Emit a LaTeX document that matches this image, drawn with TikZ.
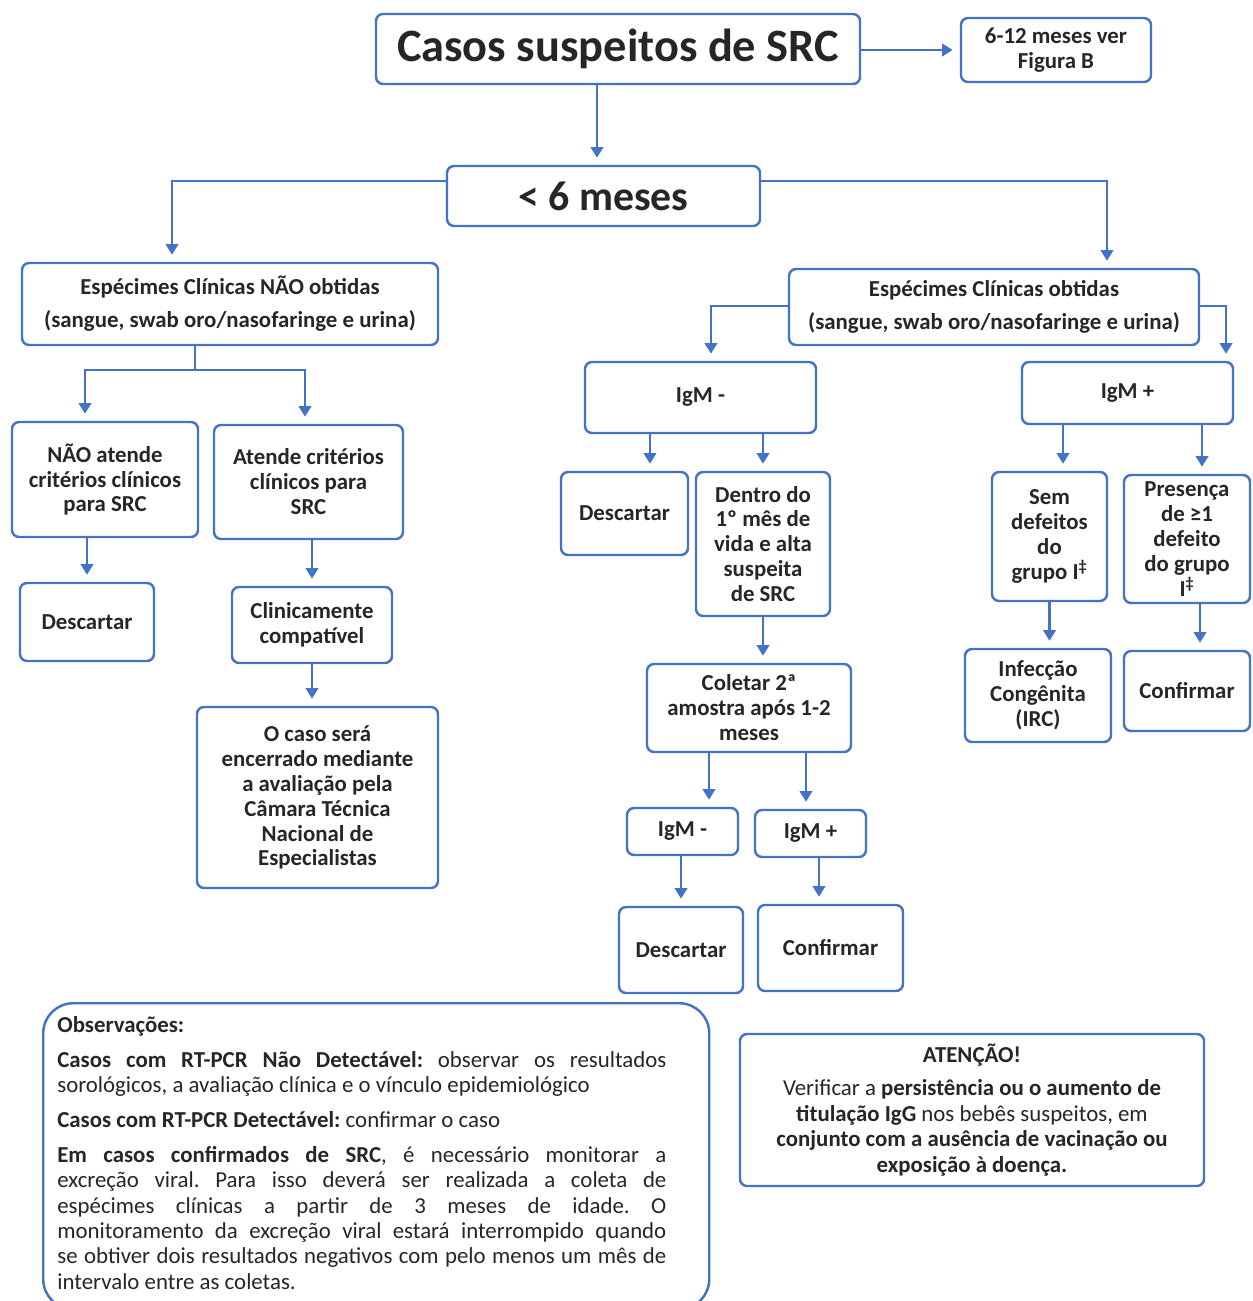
\documentclass[tikz,border=0pt]{standalone}
\usepackage{fontspec}
\setmainfont{Carlito}
\usetikzlibrary{arrows.meta}
\definecolor{boxblue}{HTML}{4472C4}
\definecolor{txt}{HTML}{262626}
\newlength\px
\setlength\px{0.02cm}
\frenchspacing
\tikzset{
	box/.style={draw=boxblue, line width=1.4pt, rounded corners=4pt, fill=white, align=center, inner sep=0pt, text=txt, font=\fontsize{13}{14.2}\selectfont\bfseries},
	link/.style={draw=boxblue, line width=1.4pt},
	arr/.style={link, -{Triangle[width=7pt,length=6pt]}, shorten >=4pt},
}
\begin{document}
\begin{tikzpicture}[x=0.02cm, y=-0.02cm]
	\useasboundingbox (0,0) rectangle (1252,1301) ;

	\node[box, minimum width=484\px, minimum height=70\px, font=\fontsize{26.4}{30}\selectfont\bfseries] (titulo) at (618,49) {Casos suspeitos de SRC} ;
	\node[box, minimum width=190\px, minimum height=64\px] (figb) at (1056,50) {6-12 meses ver\\Figura B} ;
	\node[box, minimum width=313\px, minimum height=60\px, font=\fontsize{23.8}{28}\selectfont\bfseries] (menos) at (603.5,196) {< 6 meses} ;

	\node[box, minimum width=416\px, minimum height=82\px] (naoobt) at (230,304) {Espécimes Clínicas NÃO obtidas\\[4.5pt](sangue, swab oro/nasofaringe e urina)} ;
	\node[box, minimum width=410\px, minimum height=76\px] (obt) at (994,307) {Espécimes Clínicas obtidas\\[4.5pt](sangue, swab oro/nasofaringe e urina)} ;

	\node[box, minimum width=186\px, minimum height=115\px] (nao) at (105,479.5) {NÃO atende\\critérios clínicos\\para SRC} ;
	\node[box, minimum width=189\px, minimum height=114\px] (atende) at (308.5,482) {Atende critérios\\clínicos para\\SRC} ;
	\node[box, minimum width=134\px, minimum height=78\px] (desc1) at (87,622) {Descartar} ;
	\node[box, minimum width=160\px, minimum height=76\px] (clin) at (312,625) {Clinicamente\\compatível} ;
	\node[box, minimum width=241\px, minimum height=181\px] (encerra) at (317.5,797.5) {O caso será\\encerrado mediante\\a avaliação pela\\Câmara Técnica\\Nacional de\\Especialistas} ;

	\node[box, minimum width=231\px, minimum height=71\px] (igmneg) at (700.5,397.5) {IgM -} ;
	\node[box, minimum width=127\px, minimum height=83\px] (desc2) at (624.5,513.5) {Descartar} ;
	\node[box, minimum width=134\px, minimum height=144\px] (dentro) at (763,544) {Dentro do\\1º mês de\\vida e alta\\suspeita\\de SRC} ;
	\node[box, minimum width=204\px, minimum height=88\px] (coletar) at (749,708) {Coletar 2ª\\amostra após 1-2\\meses} ;
	\node[box, minimum width=111\px, minimum height=47\px] (igmneg2) at (682.5,831.5) {IgM -} ;
	\node[box, minimum width=111\px, minimum height=47\px] (igmpos2) at (810.5,833.5) {IgM +} ;
	\node[box, minimum width=124\px, minimum height=86\px] (desc3) at (681,950) {Descartar} ;
	\node[box, minimum width=145\px, minimum height=86\px] (conf3) at (830.5,948) {Confirmar} ;

	\node[box, minimum width=211\px, minimum height=62\px] (igmpos) at (1127.5,393) {IgM +} ;
	\node[box, minimum width=115\px, minimum height=129\px] (sem) at (1049.5,536.5) {Sem\\defeitos\\do\\grupo I\textsuperscript{‡}} ;
	\node[box, minimum width=126\px, minimum height=128\px] (pres) at (1187,539) {Presença\\de ≥1\\defeito\\do grupo\\I\textsuperscript{‡}} ;
	\node[box, minimum width=146\px, minimum height=93\px] (infec) at (1038,695.5) {Infecção\\Congênita\\(IRC)} ;
	\node[box, minimum width=126\px, minimum height=80\px] (conf2) at (1187,691) {Confirmar} ;

	\node[box, rounded corners=30\px, anchor=north west, minimum width=666\px, minimum height=306\px] (obs) at (42,1002) {} ;
	\node[anchor=north west, text width=609\px, inner sep=0pt, align=justify, text=txt, font=\fontsize{13}{14.4}\selectfont, execute at begin node={\setlength{\parskip}{5.5pt}\setlength{\parindent}{0pt}\tolerance=10000\hyphenpenalty=10000}] (obstxt) at (57,1016) {\textbf{Observações:}\par
	\textbf{Casos com RT-PCR Não Detectável:} observar os resultados\linebreak sorológicos, a avaliação clínica e o vínculo epidemiológico\par
	\textbf{Casos com RT-PCR Detectável:} confirmar o caso\par
	\textbf{Em casos confirmados de SRC}, é necessário monitorar a\linebreak excreção viral. Para isso deverá ser realizada a coleta de\linebreak espécimes clínicas a partir de 3 meses de idade. O\linebreak monitoramento da excreção viral estará interrompido quando\linebreak se obtiver dois resultados negativos com pelo menos um mês de\linebreak intervalo entre as coletas.} ;
	\node[box, minimum width=464\px, minimum height=152\px, font=\fontsize{13}{14.6}\selectfont] (atencao) at (972,1110) {\textbf{ATENÇÃO!}\\[4.5pt]Verificar a \textbf{persistência ou o aumento de}\\\textbf{titulação IgG} nos bebês suspeitos, em\\\textbf{conjunto com a ausência de vacinação ou}\\\textbf{exposição à doença.}} ;

	\coordinate (k1) at (597,0) ;
	\coordinate (k2) at (172,181) ;
	\coordinate (k3) at (1107,181) ;
	\coordinate (k4) at (195,370) ;
	\coordinate (k4a) at (85,370) ;
	\coordinate (k4b) at (305,370) ;
	\coordinate (k8) at (711,306) ;
	\coordinate (k9) at (1226,306) ;
	\coordinate (k10) at (650,0) ;
	\coordinate (k13) at (709,0) ;
	\coordinate (k14) at (806,0) ;
	\coordinate (k16) at (819,0) ;
	\coordinate (k17) at (1063,0) ;
	\coordinate (k18) at (1202,0) ;
	\coordinate (k20) at (1200,0) ;

	\draw [arr] (titulo.east |- figb) -- (figb.west) ;
	\draw [arr] (titulo.south -| k1) -- (menos.north -| k1) ;
	\draw [arr] (menos.west |- k2) -| (k2 |- naoobt.north) ;
	\draw [arr] (menos.east |- k3) -| (k3 |- obt.north) ;

	\draw [link] (naoobt.south -| k4) -- (k4) ;
	\draw [arr] (k4) -| (k4a |- nao.north) ;
	\draw [arr] (k4) -| (k4b |- atende.north) ;
	\draw [arr] (desc1.north |- nao.south) -- (desc1.north) ;
	\draw [arr] (clin.north |- atende.south) -- (clin.north) ;
	\draw [arr] (clin.south) -- (clin.south |- encerra.north) ;

	\draw [arr] (obt.west |- k8) -| (k8 |- igmneg.north) ;
	\draw [arr] (obt.east |- k9) -| (k9 |- igmpos.north) ;
	\draw [arr] (igmneg.south -| k10) -- (desc2.north -| k10) ;
	\draw [arr] (dentro.north |- igmneg.south) -- (dentro.north) ;
	\draw [arr] (dentro.south) -- (dentro.south |- coletar.north) ;
	\draw [arr] (coletar.south -| k13) -- (igmneg2.north -| k13) ;
	\draw [arr] (coletar.south -| k14) -- (igmpos2.north -| k14) ;
	\draw [arr] (desc3.north |- igmneg2.south) -- (desc3.north) ;
	\draw [arr] (igmpos2.south -| k16) -- (conf3.north -| k16) ;

	\draw [arr] (igmpos.south -| k17) -- (sem.north -| k17) ;
	\draw [arr] (igmpos.south -| k18) -- (pres.north -| k18) ;
	\draw [arr] (sem.south) -- (sem.south |- infec.north) ;
	\draw [arr] (pres.south -| k20) -- (conf2.north -| k20) ;

\end{tikzpicture}
\end{document}
